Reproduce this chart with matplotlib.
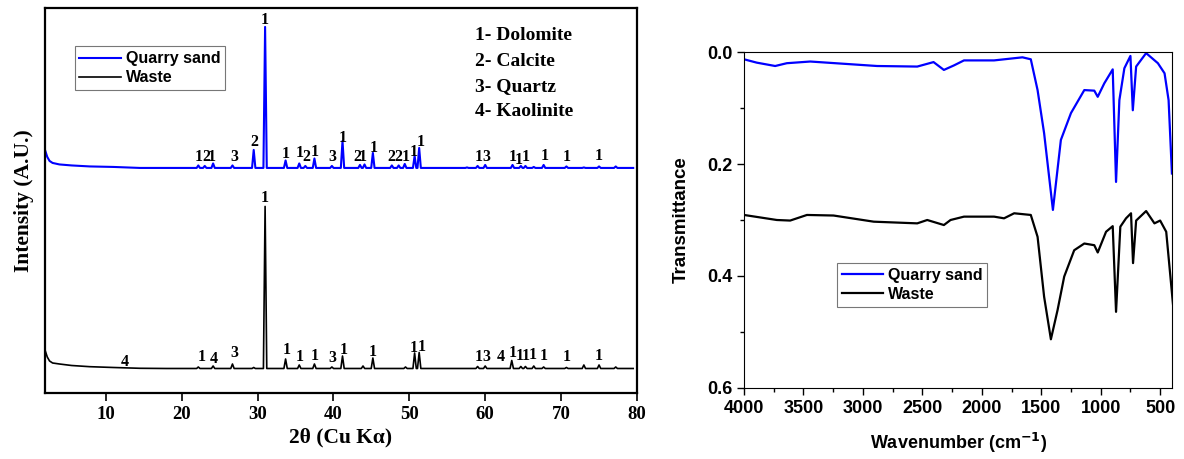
import matplotlib.pyplot as plt
import numpy as np
from matplotlib.ticker import MultipleLocator

# ---- XRD (left) ----  y is in arbitrary intensity units
bg_x = [2.0, 2.3, 2.6, 3.0, 3.9, 5.5, 7.9, 11.0, 14.5, 18.0, 21.0]
qs_bg_y = [243, 236, 232, 230, 228.5, 227.5, 226.5, 226, 225, 225, 225]
waste_bg_y = [43, 36, 32, 30, 29, 27.5, 26.3, 25.5, 24.7, 24.5, 24.5]
qs_base = 225
waste_base = 24.5

qs_peaks = [22.2, 23.05, 24.15, 26.7, 29.5, 31.0, 33.7, 35.5, 36.3, 37.5, 39.8,
            41.2, 43.5, 44.1, 45.2, 47.7, 48.6, 49.4, 50.7, 51.3, 57.6, 59.0,
            60.0, 63.6, 64.7, 65.3, 66.4, 67.7, 70.7, 73.0, 75.0, 77.2]
qs_heights = [227.5, 227, 229.5, 227.5, 243, 366, 232.5, 229.5, 227, 234.5, 227,
              252, 228, 228.5, 240, 227.5, 227.5, 229, 237, 245, 225.5, 227,
              228, 228, 227, 227, 226, 228, 226.5, 225.5, 226.5, 226.5]

waste_peaks = [22.2, 24.15, 26.7, 29.5, 31.0, 33.7, 35.5, 37.5, 39.8, 41.2, 43.9,
               45.2, 49.5, 50.7, 51.3, 59.0, 60.0, 63.5, 64.7, 65.3, 66.4, 67.7,
               70.7, 73.0, 75.0, 77.2]
waste_heights = [26, 27, 29, 25.5, 186.5, 34, 28, 29, 26, 37, 27,
                 35, 26, 40, 40.5, 26.5, 27, 32.5, 26.5, 26.5, 27, 26,
                 25.5, 28, 28, 26]

qs_labels = [(22.3, '1'), (23.2, '2'), (24.0, '1'), (27.0, '3'), (29.6, '2'),
             (31.0, '1'), (33.7, '1'), (35.6, '1'), (36.4, '2'), (37.6, '1'),
             (39.8, '3'), (41.2, '1'), (43.1, '2'), (43.9, '1'), (45.3, '1'),
             (47.7, '2'), (48.6, '2'), (49.5, '1'), (50.6, '1'), (51.5, '1'),
             (59.2, '1'), (60.1, '3'), (63.6, '1'), (64.4, '1'), (65.3, '1'),
             (67.8, '1'), (70.8, '1'), (75.0, '1')]
qs_label_y = [236, 236, 236, 236, 251, 373, 239, 240, 236, 241, 236, 255, 236,
              236, 245, 236, 236, 236, 241, 251, 236, 236, 236, 233, 236, 237,
              236, 237]

waste_labels = [(12.5, '4'), (22.6, '1'), (24.2, '4'), (27.0, '3'), (31.0, '1'),
                (33.8, '1'), (35.6, '1'), (37.6, '1'), (39.8, '3'), (41.3, '1'),
                (45.2, '1'), (50.6, '1'), (51.6, '1'), (59.2, '1'), (60.2, '3'),
                (62.0, '4'), (63.6, '1'), (64.6, '1'), (65.4, '1'), (66.3, '1'),
                (67.7, '1'), (70.8, '1'), (75.0, '1')]
waste_label_y = [31, 36, 34, 40, 195, 43, 36, 37, 35, 43, 41, 45, 46, 36, 36,
                 36, 40, 37, 37, 38, 37, 36, 37]

phases = ['1- Dolomite', '2- Calcite', '3- Quartz', '4- Kaolinite']

# ---- FTIR (right) ----
qs_wn = [4000, 3893, 3738, 3640, 3443, 2881, 2543, 2406, 2319, 2235, 2150, 1897,
         1658, 1588, 1531, 1476, 1402, 1335, 1250, 1138, 1054, 1025, 970, 899,
         871, 843, 801, 750, 730, 702, 618, 519, 463, 429, 401]
qs_tr = [0.013, 0.019, 0.025, 0.020, 0.017, 0.025, 0.026, 0.018, 0.032, 0.024,
         0.015, 0.015, 0.0095, 0.013, 0.068, 0.145, 0.282, 0.157, 0.109, 0.068,
         0.069, 0.080, 0.056, 0.031, 0.232, 0.086, 0.029, 0.007, 0.104, 0.026,
         0.002, 0.020, 0.038, 0.086, 0.217]

waste_wn = [4000, 3724, 3612, 3471, 3247, 2909, 2543, 2459, 2319, 2263, 2150, 1897,
            1813, 1728, 1588, 1531, 1476, 1419, 1363, 1307, 1223, 1138, 1054, 1025,
            955, 899, 871, 835, 787, 745, 728, 702, 618, 548, 500, 449, 390]
waste_tr = [0.291, 0.300, 0.301, 0.291, 0.292, 0.303, 0.306, 0.300, 0.309, 0.300,
            0.294, 0.294, 0.297, 0.288, 0.291, 0.330, 0.437, 0.513, 0.461, 0.401,
            0.354, 0.342, 0.345, 0.358, 0.321, 0.311, 0.464, 0.312, 0.297, 0.288,
            0.377, 0.301, 0.284, 0.306, 0.301, 0.321, 0.455]


def xrd_trace(bx, by, base, peaks, heights, w=0.22, xend=79.5):
    xs, ys = list(bx), list(by)
    for p, h in zip(peaks, heights):
        xs += [p - w, p, p + w]
        ys += [base, h, base]
    xs.append(xend)
    ys.append(base)
    return xs, ys


serif = 'Liberation Serif'
sans = 'Liberation Sans'

fig = plt.figure(figsize=(11.84, 4.59), dpi=100)
ax1 = fig.add_axes([0.038, 0.1438, 0.500, 0.839])
ax2 = fig.add_axes([0.6284, 0.1547, 0.3615, 0.732])

x, y = xrd_trace(bg_x, qs_bg_y, qs_base, qs_peaks, qs_heights)
ax1.plot(x, y, color='#0000ff', lw=1.5, label='Quarry sand')
x, y = xrd_trace(bg_x, waste_bg_y, waste_base, waste_peaks, waste_heights)
ax1.plot(x, y, color='black', lw=1.2, label='Waste')

for (px, t), ty in zip(qs_labels, qs_label_y):
    ax1.text(px, ty, t, ha='center', va='center', fontsize=11.5,
             fontweight='bold', family=serif)
for (px, t), ty in zip(waste_labels, waste_label_y):
    ax1.text(px, ty, t, ha='center', va='center', fontsize=11.5,
             fontweight='bold', family=serif)
for i, s in enumerate(phases):
    ax1.text(58.7, 357 - i * 25.3, s, ha='left', va='center', fontsize=14,
             fontweight='bold', family=serif)

ax1.set_xlim(2, 80)
ax1.set_ylim(0, 385)
ax1.set_yticks([])
ax1.set_xticks(np.arange(10, 81, 10))
ax1.tick_params(axis='x', direction='out', length=6, width=1.2)
for lab in ax1.get_xticklabels():
    lab.set_fontfamily(serif)
    lab.set_fontweight('bold')
    lab.set_fontsize(13.5)
for sp in ax1.spines.values():
    sp.set_linewidth(1.6)
ax1.set_xlabel('2θ (Cu Kα)', fontsize=15.5, fontweight='bold', family=serif,
               labelpad=3)
ax1.set_ylabel('Intensity (A.U.)', fontsize=15.5, fontweight='bold',
               family=serif, labelpad=8)
leg = ax1.legend(loc='upper left', bbox_to_anchor=(0.05, 0.90), borderaxespad=0,
                 fancybox=False, handlelength=2.6, borderpad=0.3,
                 labelspacing=0.25, handletextpad=0.3,
                 prop={'family': sans, 'weight': 'bold', 'size': 11.5})
leg.get_frame().set_edgecolor('#555555')
leg.get_frame().set_linewidth(0.8)

ax2.plot(qs_wn, qs_tr, color='#0000ff', lw=1.6, label='Quarry sand')
ax2.plot(waste_wn, waste_tr, color='black', lw=1.6, label='Waste')
ax2.set_xlim(4000, 400)
ax2.set_ylim(0.6, 0.0)
ax2.set_xticks([4000, 3500, 3000, 2500, 2000, 1500, 1000, 500])
ax2.xaxis.set_minor_locator(MultipleLocator(250))
ax2.set_yticks([0.0, 0.2, 0.4, 0.6])
ax2.set_yticklabels(['0.0', '0.2', '0.4', '0.6'])
ax2.yaxis.set_minor_locator(MultipleLocator(0.1))
ax2.tick_params(which='major', direction='out', length=5, width=1)
ax2.tick_params(which='minor', direction='out', length=3, width=1)
for lab in ax2.get_xticklabels() + ax2.get_yticklabels():
    lab.set_fontfamily(sans)
    lab.set_fontweight('bold')
    lab.set_fontsize(13)
ax2.set_xlabel('Wavenumber (cm$^{\\mathbf{-1}}$)', fontsize=13, fontweight='bold',
               family=sans, labelpad=10)
ax2.set_ylabel('Transmittance', fontsize=13.5, fontweight='bold', family=sans,
               labelpad=12)
leg2 = ax2.legend(loc='upper left', bbox_to_anchor=(0.217, 0.372),
                  borderaxespad=0, fancybox=False, handlelength=2.6,
                  borderpad=0.3, labelspacing=0.25, handletextpad=0.3,
                  prop={'family': sans, 'weight': 'bold', 'size': 11.5})
leg2.get_frame().set_edgecolor('#555555')
leg2.get_frame().set_linewidth(0.8)

fig.savefig('out.png', dpi=100)
